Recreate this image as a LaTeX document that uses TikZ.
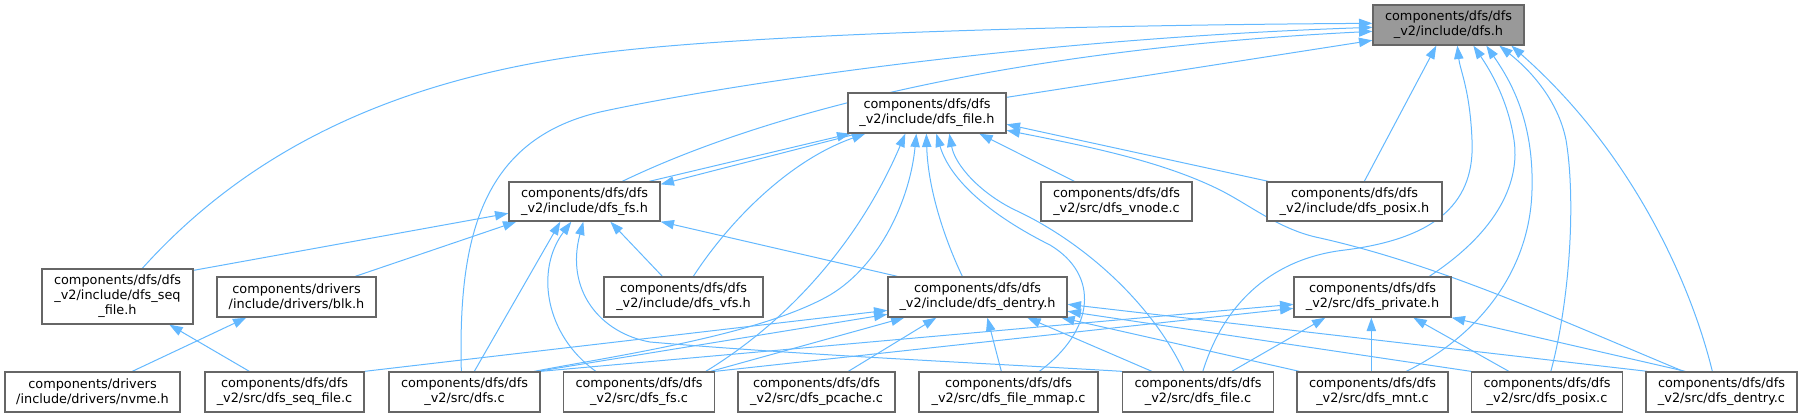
\documentclass[tikz,border=0pt]{standalone}
\usepackage{fontspec}
\setmainfont{DejaVu Sans}
\usetikzlibrary{arrows.meta,calc}
\definecolor{edgeblue}{HTML}{63B8FF}
\definecolor{boxgray}{HTML}{666666}
\definecolor{rootfill}{HTML}{999999}
\pgfdeclarelayer{bg}
\pgfsetlayers{bg,main}
\begin{document}
\begin{tikzpicture}[x=0.75pt,y=-0.75pt,
  box/.style 2 args={draw=boxgray, line width=1pt, fill=white, inner sep=0pt, align=center,
    minimum width=#1*0.75pt, minimum height=#2*0.75pt, font=\fontsize{9.65pt}{11.25pt}\selectfont},
  link/.style={draw=edgeblue, line width=0.75pt, -{Triangle[length=10pt,width=7pt]}}]
\useasboundingbox (0,0) rectangle (1803,417);

\node[box={151}{40}, fill=rootfill] (root) at (1448.5,25) {components/dfs/dfs\\\_v2/include/dfs.h};
\node[box={158}{40}] (fileh) at (927,113) {components/dfs/dfs\\\_v2/include/dfs\_file.h};
\node[box={151}{39}] (fsh) at (584.5,201.5) {components/dfs/dfs\\\_v2/include/dfs\_fs.h};
\node[box={151}{39}] (vnodec) at (1116.5,201.5) {components/dfs/dfs\\\_v2/src/dfs\_vnode.c};
\node[box={175}{39}] (posixh) at (1354.5,201.5) {components/dfs/dfs\\\_v2/include/dfs\_posix.h};
\node[box={151}{55}] (seqh) at (117.5,296.5) {components/dfs/dfs\\\_v2/include/dfs\_seq\\\_file.h};
\node[box={159}{40}] (blkh) at (296.5,297) {components/drivers\\/include/drivers/blk.h};
\node[box={159}{40}] (vfsh) at (683.5,297) {components/dfs/dfs\\\_v2/include/dfs\_vfs.h};
\node[box={179}{40}] (denth) at (977.5,297) {components/dfs/dfs\\\_v2/include/dfs\_dentry.h};
\node[box={157}{40}] (privh) at (1372.5,297) {components/dfs/dfs\\\_v2/src/dfs\_private.h};
\node[box={175}{40}] (nvmeh) at (92.5,392) {components/drivers\\/include/drivers/nvme.h};
\node[box={159}{40}] (seqc) at (284.5,392) {components/dfs/dfs\\\_v2/src/dfs\_seq\_file.c};
\node[box={151}{40}] (dfsc) at (464.5,392) {components/dfs/dfs\\\_v2/src/dfs.c};
\node[box={151}{40}] (fsc) at (639,392) {components/dfs/dfs\\\_v2/src/dfs\_fs.c};
\node[box={157}{40}] (pcachec) at (816.5,392) {components/dfs/dfs\\\_v2/src/dfs\_pcache.c};
\node[box={179}{40}] (mmapc) at (1008.5,392) {components/dfs/dfs\\\_v2/src/dfs\_file\_mmap.c};
\node[box={151}{40}] (filec) at (1198,392) {components/dfs/dfs\\\_v2/src/dfs\_file.c};
\node[box={151}{40}] (mntc) at (1372.5,392) {components/dfs/dfs\\\_v2/src/dfs\_mnt.c};
\node[box={151}{40}] (posixc) at (1547,392) {components/dfs/dfs\\\_v2/src/dfs\_posix.c};
\node[box={151}{40}] (dentc) at (1721.5,392) {components/dfs/dfs\\\_v2/src/dfs\_dentry.c};

\begin{pgfonlayer}{bg}
% into dfs.h
\draw[link] ($(seqh.north west)+(101,0)$) .. controls (240,160) and (380,80) .. (600,53) .. controls (760,33) and (1100,25) .. ($(root.north west)+(0,19)$);
\draw[link] ($(dfsc.north west)+(73,0)$) .. controls (458,240) and (480,140) .. (600,112) .. controls (700,90) and (1000,40) .. ($(root.north west)+(0,23)$);
\draw[link] ($(fsh.north west)+(114,0)$) .. controls (760,115) and (1000,50) .. ($(root.north west)+(0,27)$);
\draw[link] ($(fileh.north east)+(0,5)$) -- ($(root.north west)+(0,36)$);
\draw[link] ($(posixh.north west)+(98,0)$) -- ($(root.south west)+(64,0)$);
\draw[link] ($(filec.north west)+(81,0)$) .. controls (1225,300) and (1275,258) .. (1345,250) .. controls (1440,238) and (1475,200) .. (1472,140) .. controls (1470,90) and (1460,70) .. ($(root.south west)+(85,0)$);
\draw[link] ($(privh.north west)+(136,0)$) .. controls (1500,230) and (1520,180) .. (1514,140) .. controls (1508,100) and (1490,70) .. ($(root.south west)+(101,0)$);
\draw[link] ($(mntc.north west)+(110,0)$) .. controls (1480,335) and (1530,270) .. (1532,190) .. controls (1534,120) and (1510,80) .. ($(root.south west)+(114,0)$);
\draw[link] ($(posixc.north west)+(80,0)$) .. controls (1570,300) and (1576,200) .. (1566,140) .. controls (1558,100) and (1530,70) .. ($(root.south west)+(127,0)$);
\draw[link] ($(dentc.north west)+(67,0)$) .. controls (1690,280) and (1630,150) .. ($(root.south west)+(139,0)$);
% into dfs_file.h
\draw[link] ($(fsh.north west)+(141,0)$) -- ($(fileh.south west)+(3,0)$);
\draw[link] ($(fileh.south west)+(10,0)$) -- ($(fsh.north east)+(0,3)$);
\draw[link] ($(vfsh.north west)+(90,0)$) .. controls (730,220) and (790,160) .. ($(fileh.south west)+(18,0)$);
\draw[link] ($(fsc.north west)+(143,0)$) .. controls (790,320) and (860,240) .. ($(fileh.south west)+(58,0)$);
\draw[link] ($(dfsc.north west)+(146,0)$) .. controls (620,355) and (760,335) .. (830,295) .. controls (880,265) and (910,200) .. ($(fileh.south west)+(69,0)$);
\draw[link] ($(denth.north west)+(75,0)$) .. controls (945,240) and (928,190) .. ($(fileh.south west)+(79,0)$);
\draw[link] ($(mmapc.north west)+(121,0)$) .. controls (1095,330) and (1100,275) .. (1050,245) .. controls (990,215) and (950,180) .. ($(fileh.south west)+(89,0)$);
\draw[link] ($(filec.north west)+(62,0)$) .. controls (1150,300) and (1080,240) .. (1015,210) .. controls (980,193) and (955,165) .. ($(fileh.south west)+(102,0)$);
\draw[link] ($(vnodec.north west)+(34,0)$) -- ($(fileh.south west)+(132,0)$);
\draw[link] ($(posixh.north west)+(2,0)$) -- ($(fileh.north east)+(0,32)$);
\draw[link] ($(dentc.north west)+(38,0)$) .. controls (1560,320) and (1440,265) .. (1320,238) .. controls (1280,230) and (1250,205) .. (1220,190) .. controls (1160,160) and (1080,145) .. ($(fileh.north east)+(0,38)$);
% into dfs_fs.h
\draw[link] ($(seqh.north east)+(0,2)$) -- ($(fsh.north west)+(0,32)$);
\draw[link] ($(blkh.north west)+(139,0)$) -- ($(fsh.south west)+(8,0)$);
\draw[link] ($(dfsc.north west)+(86,0)$) -- ($(fsh.south west)+(52,0)$);
\draw[link] ($(fsc.north west)+(33,0)$) .. controls (545,335) and (535,270) .. ($(fsh.south west)+(63,0)$);
\draw[link] (filec.north west) .. controls (1000,364) and (800,355) .. (650,342) .. controls (600,333) and (565,290) .. ($(fsh.south west)+(75,0)$);
\draw[link] ($(vfsh.north west)+(59,0)$) -- ($(fsh.south west)+(102,0)$);
\draw[link] ($(denth.north west)+(10,0)$) -- (fsh.south east);
% seq_file.h, blk.h
\draw[link] ($(seqc.north west)+(45,0)$) -- ($(seqh.south west)+(128,0)$);
\draw[link] ($(nvmeh.north west)+(128,0)$) -- ($(blkh.south west)+(30,0)$);
% into dfs_dentry.h
\draw[link] (seqc.north east) -- ($(denth.north west)+(0,34)$);
\draw[link] ($(dfsc.north east)+(-3,0)$) -- ($(denth.north west)+(0,38)$);
\draw[link] ($(fsc.north west)+(148,0)$) -- ($(denth.south west)+(17,0)$);
\draw[link] ($(pcachec.north west)+(111,0)$) -- ($(denth.south west)+(49,0)$);
\draw[link] ($(mmapc.north west)+(83,0)$) -- ($(denth.south west)+(100,0)$);
\draw[link] ($(filec.north west)+(30,0)$) -- ($(denth.south west)+(140,0)$);
\draw[link] ($(mntc.north west)+(3,0)$) -- ($(denth.south west)+(174,0)$);
\draw[link] (posixc.north west) -- ($(denth.north east)+(0,35)$);
\draw[link] ($(dentc.north west)+(2,0)$) -- ($(denth.north east)+(0,28)$);
% into dfs_private.h
\draw[link] (dfsc.north east) -- ($(privh.north west)+(0,28)$);
\draw[link] (fsc.north east) -- ($(privh.north west)+(0,32)$);
\draw[link] ($(filec.north west)+(110,0)$) -- ($(privh.south west)+(32,0)$);
\draw[link] ($(mntc.north west)+(75,0)$) -- ($(privh.south west)+(78,0)$);
\draw[link] ($(posixc.north west)+(38,0)$) -- ($(privh.south west)+(120,0)$);
\draw[link] ($(dentc.north west)+(40,0)$) -- (privh.south east);
\end{pgfonlayer}
\end{tikzpicture}
\end{document}
